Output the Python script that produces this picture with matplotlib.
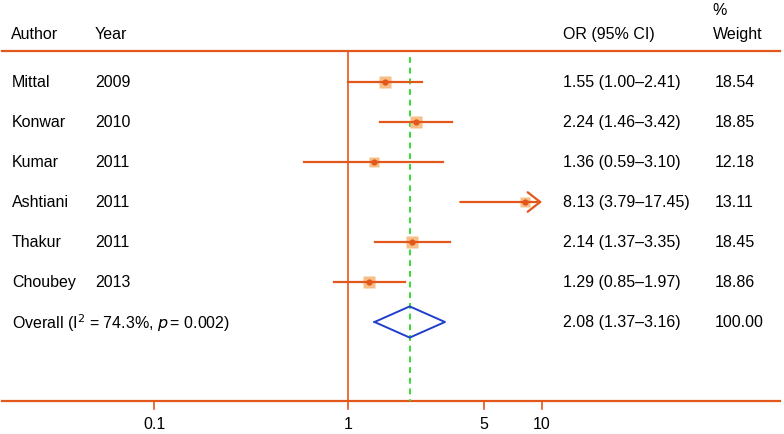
import numpy as np
import matplotlib
matplotlib.use("Agg")
from matplotlib import pyplot as plt
from matplotlib import transforms

plt.rcParams['font.family'] = ['Liberation Sans', 'DejaVu Sans']

authors = ["Mittal", "Konwar", "Kumar", "Ashtiani", "Thakur", "Choubey"]
years = ["2009", "2010", "2011", "2011", "2011", "2013"]
odds = [1.55, 2.24, 1.36, 8.13, 2.14, 1.29]
lower = [1.00, 1.46, 0.59, 3.79, 1.37, 0.85]
upper = [2.41, 3.42, 3.10, 17.45, 3.35, 1.97]
weights = [18.54, 18.85, 12.18, 13.11, 18.45, 18.86]
overall = (2.08, 1.37, 3.16)
overall_label = r"Overall (I$^2$ = 74.3%, $p\,$= 0.002)"
tick_vals = [0.1, 1, 5, 10]
tick_labels = ["0.1", "1", "5", "10"]

LINE_COLOR = "#E2571C"
BOX_COLOR = "#F7BE85"
TEXT_SIZE = 11.5
X_CLIP = 10

fig = plt.figure(figsize=(7.84, 4.35), dpi=100)
ax = fig.add_axes([0, 0, 1, 1])
ax.set_xscale("log")
ax.set_xlim(10 ** (-348 / 194), 10 ** (436 / 194))
ax.set_ylim(8.8, -2.075)
ax.axis("off")

# text uses axes fraction for x, rows for y
tr = transforms.blended_transform_factory(ax.transAxes, ax.transData)

x_left = 10 ** (-346 / 194)
x_right = 10 ** (432 / 194)
y_top, y_bot = -0.775, 7.975

# header
ax.text(11 / 784, -1.2, "Author", transform=tr, fontsize=TEXT_SIZE, va="center")
ax.text(95 / 784, -1.2, "Year", transform=tr, fontsize=TEXT_SIZE, va="center")
ax.text(563 / 784, -1.2, "OR (95% CI)", transform=tr, fontsize=TEXT_SIZE, va="center")
ax.text(763 / 784, -1.2, "Weight", transform=tr, fontsize=TEXT_SIZE, va="center", ha="right")
ax.text(712 / 784, -1.8, "%", transform=tr, fontsize=TEXT_SIZE, va="center")

# frame lines
ax.plot([x_left, x_right], [y_top, y_top], color=LINE_COLOR, lw=1.6)
ax.plot([x_left, x_right], [y_bot, y_bot], color=LINE_COLOR, lw=1.6)
ax.plot([1, 1], [y_top, y_bot], color=LINE_COLOR, lw=1.2)
ax.plot([overall[0], overall[0]], [-0.625, y_bot], color="#33DD33", lw=1.4,
        ls=(0, (3, 2.5)))

for tv, tl in zip(tick_vals, tick_labels):
    ax.plot([tv, tv], [y_bot, y_bot + 0.2], color=LINE_COLOR, lw=1.2)
    ax.text(tv, 8.55, tl, fontsize=TEXT_SIZE, ha="center", va="center")

# studies
for i, (a, yr, o, lo, hi, w) in enumerate(zip(authors, years, odds, lower, upper, weights)):
    ax.text(12 / 784, i, a, transform=tr, fontsize=TEXT_SIZE, va="center")
    ax.text(95 / 784, i, yr, transform=tr, fontsize=TEXT_SIZE, va="center")
    ax.text(563 / 784, i, f"{o:.2f} ({lo:.2f}\u2013{hi:.2f})", transform=tr,
            fontsize=TEXT_SIZE, va="center")
    ax.text(715 / 784, i, f"{w:.2f}", transform=tr, fontsize=TEXT_SIZE, va="center")

    ax.plot(o, i, marker="s", ms=2.0 * np.sqrt(w), color=BOX_COLOR, mec="none", zorder=2)
    if hi > X_CLIP:
        ax.annotate("", xy=(X_CLIP, i), xytext=(lo, i),
                    arrowprops=dict(arrowstyle="->,head_length=0.9,head_width=0.7",
                                    color=LINE_COLOR, lw=1.6, shrinkA=0, shrinkB=0),
                    zorder=3)
    else:
        ax.plot([lo, hi], [i, i], color=LINE_COLOR, lw=1.6, zorder=3)
    ax.plot(o, i, marker="o", ms=4.5, color=LINE_COLOR, mec="none", zorder=4)

# overall
yo = len(authors)
ax.text(12 / 784, yo, overall_label, transform=tr, fontsize=TEXT_SIZE, va="center")
ax.text(563 / 784, yo, f"{overall[0]:.2f} ({overall[1]:.2f}\u2013{overall[2]:.2f})",
        transform=tr, fontsize=TEXT_SIZE, va="center")
ax.text(715 / 784, yo, "100.00", transform=tr, fontsize=TEXT_SIZE, va="center")
dx = [overall[1], overall[0], overall[2], overall[0], overall[1]]
dy = [yo, yo - 0.39, yo, yo + 0.39, yo]
ax.plot(dx, dy, color="#1F3FCC", lw=1.4, zorder=3)

fig.savefig("out.png", dpi=100)
